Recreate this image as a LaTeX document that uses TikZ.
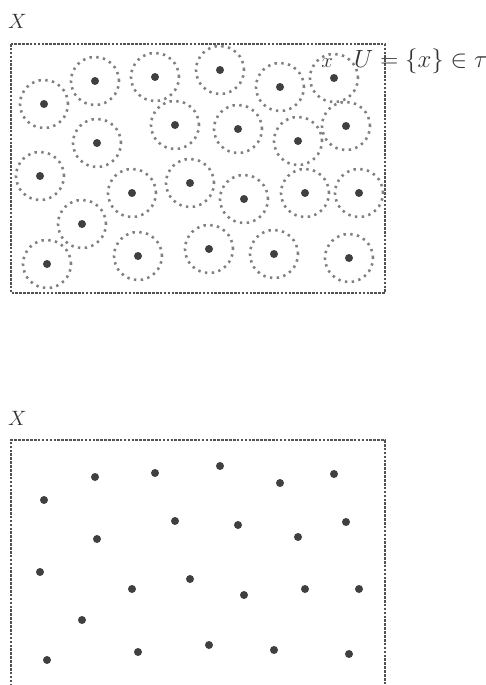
\documentclass[tikz,border=0pt]{standalone}
\begin{document}
\begin{tikzpicture}[x=1pt,y=-1pt,
  frame/.style={draw=black!68, line width=2.8pt, dash pattern=on 2.6pt off 1.3pt},
  nbhd/.style={draw=black!50, line width=2.6pt, dash pattern=on 2.4pt off 4.4pt, circle, minimum size=48pt, inner sep=0pt},
  pt/.style={fill=black!75, circle, minimum size=8pt, inner sep=0pt},
  lbl/.style={font=\fontsize{21}{25}\selectfont, text=black!80, inner sep=0pt}]
\useasboundingbox (0,0) rectangle (485,685);
% top panel
\node[lbl, anchor=base west] (X1) at (8,29) {$X$};
\draw[frame] (11,44) rectangle (385,293);
\foreach \n/\x/\y in {a/44/104, b/95/81, c/155/77, d/220/70, e/280/87, f/334/78,
  g/97/143, h/175/125, i/238/129, j/298/141, k/346/126,
  l/40/176, m/132/193, n/190/183, o/244/199, p/305/193, q/359/193,
  r/82/224, s/47/264, t/138/256, u/209/249, v/274/254, w/349/258}{
  \node[nbhd] (c\n) at (\x,\y) {};
  \node[pt] (t\n) at (\x,\y) {};
  \node[pt] (b\n) at (\x,\y+396) {};
}
\node[lbl, anchor=base east] (xl) at (333,67) {$x$};
\node[lbl, font=\fontsize{23.5}{28}\selectfont, anchor=base west] (U) at (354,67) {$U=\{x\}\in\tau$};
% bottom panel
\node[lbl, anchor=base west] (X2) at (8,425) {$X$};
\draw[frame] (11,690) -- (11,440) -- (385,440) -- (385,690);
\end{tikzpicture}
\end{document}
